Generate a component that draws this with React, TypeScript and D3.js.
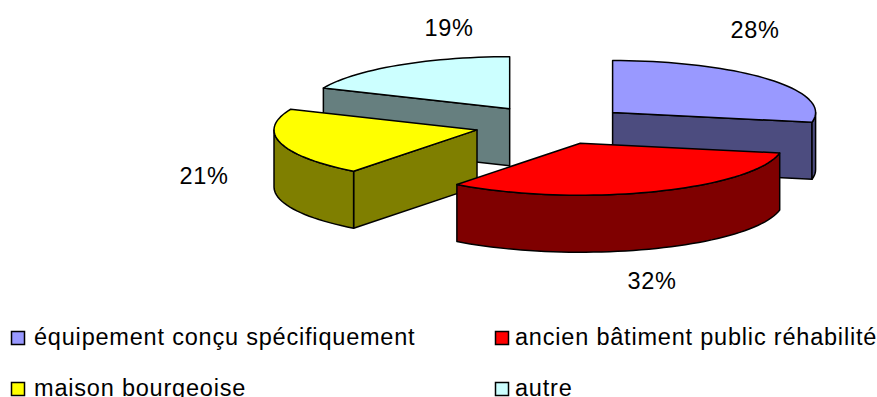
import React from "react";
import * as d3 from "d3";

const categories = ["équipement conçu spécifiquement", "ancien bâtiment public réhabilité", "maison bourgeoise", "autre"];
const shares = [28, 32.4, 21.1, 18.5];
const topColors = ["#9999FF", "#FF0000", "#FFFF00", "#CCFFFF"];
const sideColors = ["#4C4C7F", "#7F0000", "#7F7F00", "#667F7F"];

const W = 877, H = 397;
const CX = 552.5, CY = 125, RX = 203, RY = 52, DEPTH = 57, EX = 78, EY = 19.5;
const FONT = "'Liberation Sans', Arial, sans-serif";
const labelPos: [number, number][] = [[755, 38], [652, 289], [204, 184], [449, 36]];
const legendPos: [number, number][] = [[11, 331], [495, 331], [11, 382], [495, 382]];

const angle = d3.scaleLinear().domain([0, 100]).range([0, 2 * Math.PI]);
const line = d3.line<[number, number]>();
const stroke = { stroke: "#000", strokeWidth: 1.5, strokeLinejoin: "round" as const };

function arcPts(ax: number, ay: number, a0: number, a1: number, dy = 0): [number, number][] {
  const n = Math.max(2, Math.ceil((a1 - a0) / 0.04));
  return d3.range(n + 1).map((i) => {
    const t = a0 + ((a1 - a0) * i) / n;
    return [ax + RX * Math.sin(t), ay - RY * Math.cos(t) + dy] as [number, number];
  });
}

export default function App() {
  let cum = 0;
  const slices = shares.map((v, i) => {
    const a0 = angle(cum);
    cum += v;
    const a1 = angle(cum);
    const mid = (a0 + a1) / 2;
    return { i, a0, a1, ax: CX + EX * Math.sin(mid), ay: CY - EY * Math.cos(mid) };
  });
  const order = [3, 0, 2, 1];
  const face = (ax: number, ay: number, t: number) => {
    const px = ax + RX * Math.sin(t), py = ay - RY * Math.cos(t);
    return line([[ax, ay], [px, py], [px, py + DEPTH], [ax, ay + DEPTH]]) + "Z";
  };
  return (
    <svg width={W} height={H} viewBox={`0 0 ${W} ${H}`} style={{ position: "absolute", left: 0, top: 0, display: "block" }}>
      <rect width={W} height={H} fill="#fff" />
      {order.map((k) => {
        const s = slices[k];
        const w0 = Math.max(s.a0, Math.PI / 2), w1 = Math.min(s.a1, 1.5 * Math.PI);
        const wall = w1 > w0
          ? line([...arcPts(s.ax, s.ay, w0, w1), ...arcPts(s.ax, s.ay, w0, w1, DEPTH).reverse()]) + "Z"
          : null;
        const startVisible = Math.sin(s.a0) < -0.01;
        const endVisible = Math.sin(s.a1) > 0.01;
        const top = line([[s.ax, s.ay], ...arcPts(s.ax, s.ay, s.a0, s.a1)]) + "Z";
        return (
          <g key={k}>
            {startVisible && <path d={face(s.ax, s.ay, s.a0)} fill={sideColors[k]} {...stroke} />}
            {endVisible && <path d={face(s.ax, s.ay, s.a1)} fill={sideColors[k]} {...stroke} />}
            {wall && <path d={wall} fill={sideColors[k]} {...stroke} />}
            <path d={top} fill={topColors[k]} {...stroke} />
          </g>
        );
      })}
      {shares.map((v, i) => (
        <text key={i} x={labelPos[i][0]} y={labelPos[i][1]} textAnchor="middle" fontFamily={FONT} fontSize={23.5} letterSpacing={0.6} fill="#000">
          {Math.round(v)}%
        </text>
      ))}
      {categories.map((c, i) => (
        <g key={c}>
          <rect x={legendPos[i][0] + 0.5} y={legendPos[i][1] + 0.5} width={13} height={13} fill={topColors[i]} stroke="#000" strokeWidth={1.5} />
          <text x={legendPos[i][0] + (i % 2 ? 20 : 23)} y={legendPos[i][1] + 14} fontFamily={FONT} fontSize={23.5} letterSpacing={0.8} fill="#000">
            {c}
          </text>
        </g>
      ))}
    </svg>
  );
}
